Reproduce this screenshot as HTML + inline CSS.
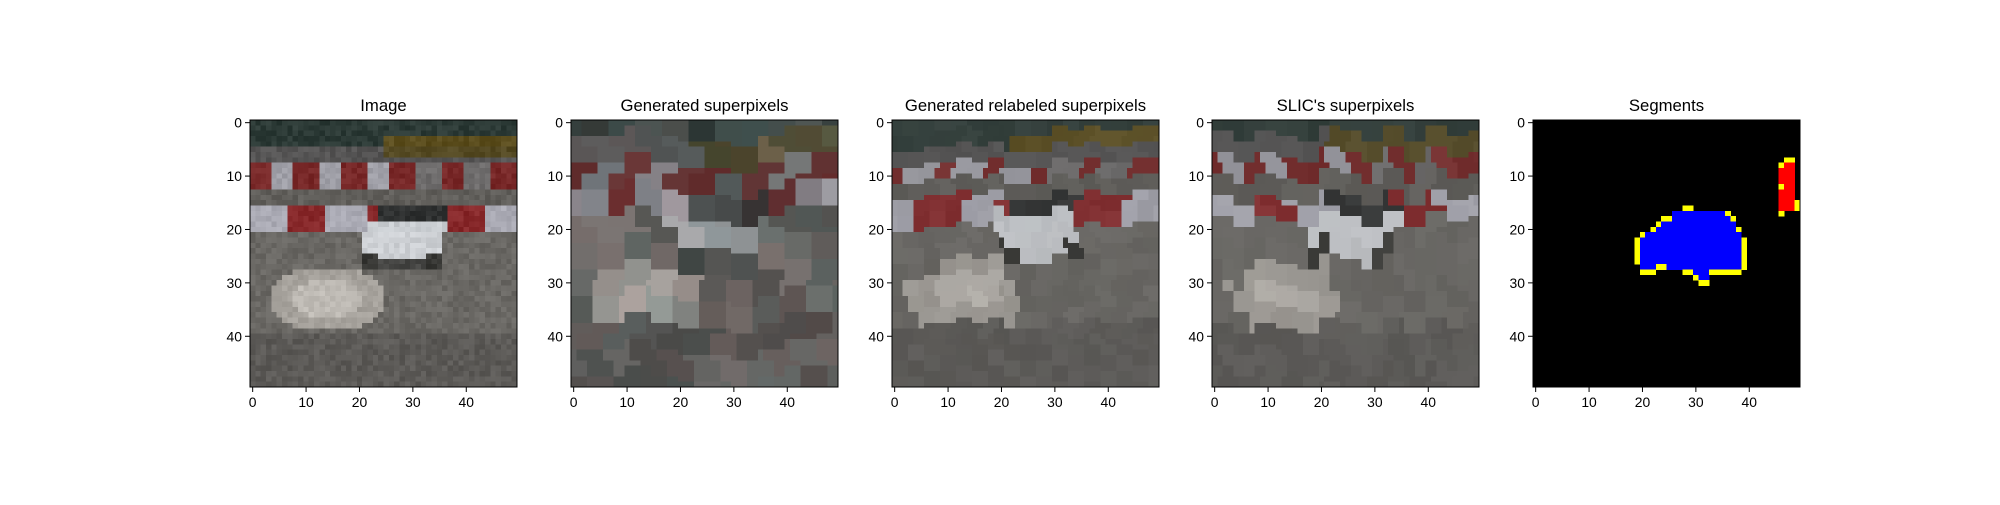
<!DOCTYPE html>
<html><head><meta charset="utf-8"><style>
body{margin:0;background:#fff;width:2000px;height:500px;overflow:hidden}
svg text{font-family:"Liberation Sans","DejaVu Sans",sans-serif;fill:#000}
</style></head><body>
<svg id="fig" width="2000" height="500" xmlns="http://www.w3.org/2000/svg"></svg>
<script>
const titles=["Image","Generated superpixels","Generated relabeled superpixels","SLIC's superpixels","Segments"];
const xTicks=[0,10,20,30,40];
const yTicks=[0,10,20,30,40];
const N=50;
const segRuns=[
[16,28,29,'Y'],[17,26,35,'B'],[17,36,36,'Y'],[18,24,25,'Y'],[18,26,36,'B'],[18,37,37,'Y'],
[19,23,23,'Y'],[19,24,37,'B'],[20,22,22,'Y'],[20,23,37,'B'],[20,38,38,'Y'],
[21,20,20,'Y'],[21,21,38,'B'],
[22,19,19,'Y'],[22,20,38,'B'],[22,39,39,'Y'],[23,19,19,'Y'],[23,20,38,'B'],[23,39,39,'Y'],
[24,19,19,'Y'],[24,20,38,'B'],[24,39,39,'Y'],[25,19,19,'Y'],[25,20,38,'B'],[25,39,39,'Y'],
[26,19,19,'Y'],[26,20,38,'B'],[26,39,39,'Y'],
[27,20,22,'B'],[27,23,24,'Y'],[27,25,38,'B'],[27,39,39,'Y'],
[28,20,22,'Y'],[28,28,29,'Y'],[28,30,32,'B'],[28,33,38,'Y'],
[29,30,30,'Y'],[29,31,32,'B'],[30,31,32,'Y'],
[7,47,48,'Y'],[8,46,46,'Y'],[8,47,48,'R'],[9,46,48,'R'],[10,46,48,'R'],[11,46,48,'R'],
[12,46,46,'Y'],[12,47,48,'R'],[13,46,48,'R'],[14,46,48,'R'],[15,46,48,'R'],[15,49,49,'Y'],
[16,46,48,'R'],[16,49,49,'Y'],[17,46,46,'Y']
];
const panelX=[250,571,892,1212,1533];
const top0=120, size=267, cell=size/N;
const svg=document.getElementById('fig');
const NS='http://www.w3.org/2000/svg';
function mk(t,a){const e=document.createElementNS(NS,t);for(const k in a)e.setAttribute(k,a[k]);return e;}
function hash(a,b,s){let h=(a*374761393+b*668265263+s*2246822519)|0;h=(h^(h>>>13))*1274126177;h=h^(h>>>16);return ((h>>>0)%1000)/1000;}
function baseColor(r,c){
  if(r<=4){ if(r>=3&&c>=25) return [92,78,30]; return [44,58,54]; }
  if(r<=7){ if(c>=25&&r<=6) return [85,74,35]; return [85,84,84]; }
  if(r<=12){ const segs=[[0,3,'r'],[4,7,'w'],[8,12,'r'],[13,16,'w'],[17,21,'r'],[22,25,'w'],[26,30,'r'],[31,35,'g'],[36,39,'r'],[40,44,'g'],[45,49,'r']];
    for(const s of segs) if(c>=s[0]&&c<=s[1]) return s[2]=='r'?[120,40,40]:s[2]=='w'?[160,160,168]:[110,108,108];}
  if(r<=15) return [96,94,90];
  if(r<=20){
    if(c>=22&&c<=36&&r>=19) return [200,204,208];
    if(c>=24&&c<=36) return [48,50,50];
    const segs=[[0,6,'w'],[7,13,'r'],[14,21,'w'],[22,23,'r'],[37,43,'r'],[44,49,'w']];
    for(const s of segs) if(c>=s[0]&&c<=s[1]) return s[2]=='r'?[135,40,42]:[170,170,180];
  }
  if(r<=27&&c>=21&&c<=35){ if(r>=25&&(c<24||c>32)) return [55,55,52]; if(r>=26) return [70,70,68]; return [205,208,212]; }
  const dr=(r-33)/6, dc=(c-14)/11;
  const d=dr*dr+dc*dc;
  if(d<0.35) return [190,186,180];
  if(d<1) return [165,161,155];
  if(r>=40) return [92,90,87];
  return [106,104,100];
}
function panelColor(p,r,c){
  if(p===0){ const b=baseColor(r,c); const n=(hash(r,c,1)-0.5)*22; return b.map(v=>Math.max(0,Math.min(255,v+n))); }
  let bs=p===1?5:(p===2?3:4);
  const jr=Math.floor(hash(Math.floor(c/bs),0,p+7)*bs), jc=Math.floor(hash(0,Math.floor(r/bs),p+9)*bs);
  const br=Math.floor((r+jr)/bs), bc=Math.floor((c+jc)/bs);
  const cr=Math.min(49,br*bs+1), cc=Math.min(49,bc*bs+1);
  let b=baseColor(cr,cc);
  if(p===1){ b=b.map(v=>v*0.6+92*0.4); const n=(hash(br,bc,3)-0.5)*36; b=b.map((v,i)=>v+n+(i==0?(hash(br,bc,5)-0.5)*16:0)); }
  else { b=b.map(v=>v*0.85+95*0.15); const n=(hash(br,bc,p)-0.5)*12; b=b.map(v=>v+n); }
  return b.map(v=>Math.max(0,Math.min(255,Math.round(v))));
}
panelX.forEach((x0,p)=>{
  const g=mk('g',{});
  
  
  svg.appendChild(g);
  const img=mk('g',{'shape-rendering':'crispEdges'});
  
  
  g.appendChild(img);
  if(p<4){
    for(let r=0;r<N;r++)for(let c=0;c<N;c++){
      const col=panelColor(p,r,c);
      img.appendChild(mk('rect',{x:x0+c*cell,y:top0+r*cell,width:cell+0.6,height:cell+0.6,fill:`rgb(${col})`}));
    }
  } else {
    img.appendChild(mk('rect',{x:x0,y:top0,width:size,height:size,fill:'#000'}));
    const cmap={B:'#0000ff',Y:'#ffff00',R:'#ff0000'};
    segRuns.forEach(s=>{
      const rc=mk('rect',{x:x0+s[1]*cell,y:top0+s[0]*cell,width:(s[2]-s[1]+1)*cell+0.3,height:cell+0.3,fill:cmap[s[3]]});
      
      
      img.appendChild(rc);
    });
  }
  const fr=mk('rect',{x:x0,y:top0,width:size,height:size,fill:'none',stroke:'#000','stroke-width':1});
  
  
  g.appendChild(fr);
  const t=mk('text',{x:x0+size/2,y:111,'text-anchor':'middle','font-size':16.7});
  t.textContent=titles[p];
  
  
  g.appendChild(t);
  xTicks.forEach(v=>{
    const xx=x0+(v+0.5)*cell;
    g.appendChild(mk('line',{x1:xx,x2:xx,y1:top0+size,y2:top0+size+5,stroke:'#000','stroke-width':1}));
    const l=mk('text',{x:xx,y:top0+size+20,'text-anchor':'middle','font-size':13.9});
    l.textContent=v;
    
    
    g.appendChild(l);
  });
  yTicks.forEach(v=>{
    const yy=top0+(v+0.5)*cell;
    g.appendChild(mk('line',{x1:x0-5,x2:x0,y1:yy,y2:yy,stroke:'#000','stroke-width':1}));
    const l=mk('text',{x:x0-8,y:yy+5,'text-anchor':'end','font-size':13.9});
    l.textContent=v;
    
    
    g.appendChild(l);
  });
});
</script>
</body></html>
